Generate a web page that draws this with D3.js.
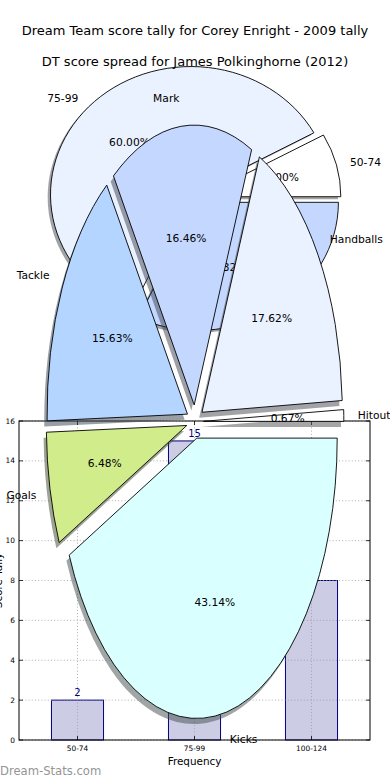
<!DOCTYPE html>
<html><head><meta charset="utf-8">
<script src="https://cdn.jsdelivr.net/npm/d3@7"></script>
<style>body{margin:0;background:#fff}svg{display:block;font-family:"DejaVu Sans",sans-serif}</style>
</head><body><svg id="c" width="390" height="780"></svg>
<script>
const title1 = "Dream Team score tally for Corey Enright - 2009 tally";
const title2 = "DT score spread for James Polkinghorne (2012)";
const tallyCategories = ["50-74", "75-99", "100-124"];
const tallyCounts = [2, 15, 8];
const yTicks = [0, 2, 4, 6, 8, 10, 12, 14, 16];
const spreadLabels = ["Hitout", "Handballs", "Mark", "Tackle", "Goals", "Kicks"];
const spreadValues = [0.67, 17.62, 16.46, 15.63, 6.48, 43.14];
const sliceColors = ["#ffffff", "#eaf1ff", "#c4d8ff", "#b3d5ff", "#d0ec8b", "#d9ffff"];
const xLabel = "Frequency", yLabel = "Score Tally", watermark = "Dream-Stats.com";

const svg = d3.select("#c");
const FS = 10.7;

function drawPie(g, values, labels, xs, ys, explode) {
  const total = d3.sum(values);
  const pie = d3.pie().sort(null).startAngle(Math.PI / 2).endAngle(Math.PI / 2 - 2 * Math.PI);
  const arcs = pie(values);
  const arc = d3.arc().innerRadius(0).outerRadius(1);
  const rx = xs(1) - xs(0), ry = ys(0) - ys(1);
  arcs.forEach((d, i) => {
    const mid = (d.startAngle + d.endAngle) / 2;
    d.ux = Math.sin(mid); d.uy = Math.cos(mid); // data coords (y up)
    d.color = sliceColors[i % sliceColors.length];
    d.label = labels[i];
    d.pct = (100 * d.value / total).toFixed(2) + "%";
  });
  const shadowFill = c => { const r = d3.rgb(c); return `rgba(${0.3*r.r},${0.3*r.g},${0.3*r.b},0.5)`; };
  g.append("g").selectAll("path").data(arcs).join("path")
    .attr("d", arc)
    .attr("transform", d => `translate(${xs(explode * d.ux - 0.02)},${ys(explode * d.uy - 0.02)}) scale(${rx},${ry})`)
    .attr("fill", d => shadowFill(d.color))
    .attr("stroke", "none");
  g.append("g").selectAll("path").data(arcs).join("path")
    .attr("d", arc)
    .attr("transform", d => `translate(${xs(explode * d.ux)},${ys(explode * d.uy)}) scale(${rx},${ry})`)
    .attr("fill", d => d.color)
    .attr("stroke", "#000")
    .attr("stroke-width", 0.9)
    .attr("vector-effect", "non-scaling-stroke")
    .attr("stroke-linejoin", "round");
  g.append("g").selectAll("text").data(arcs).join("text")
    .attr("x", d => xs((explode + 1.1) * d.ux))
    .attr("y", d => ys((explode + 1.1) * d.uy))
    .attr("dy", "0.36em")
    .attr("text-anchor", d => d.ux > 0 ? "start" : "end")
    .attr("font-size", FS)
    .text(d => d.label);
  g.append("g").selectAll("text").data(arcs).join("text")
    .attr("x", d => xs((explode + 0.6) * d.ux))
    .attr("y", d => ys((explode + 0.6) * d.uy))
    .attr("dy", "0.36em")
    .attr("text-anchor", "middle")
    .attr("font-size", FS)
    .text(d => d.pct);
}

// ---- Pie 1 (Corey Enright tally) ----
const p1x = d3.scaleLinear().domain([-1.25, 1.25]).range([19.5, 370.5]);
const p1y = d3.scaleLinear().domain([-1.25, 1.25]).range([358, 38]);
drawPie(svg.append("g"), tallyCounts, tallyCategories, p1x, p1y, 0.04);

// ---- Bar chart ----
const L = 19, R = 370, T = 421, B = 740;
const bx = d3.scaleBand().domain(tallyCategories).range([L, R]).padding(0);
const by = d3.scaleLinear().domain([0, 16]).range([B, T]);
const bw = bx.bandwidth() * 0.445;
const bar = svg.append("g");
bar.append("g").selectAll("rect").data(tallyCategories).join("rect")
  .attr("x", (c) => bx(c) + bx.bandwidth() / 2 - bw / 2)
  .attr("y", (c, i) => by(tallyCounts[i]))
  .attr("width", bw)
  .attr("height", (c, i) => B - by(tallyCounts[i]))
  .attr("fill", "#ccccE4")
  .attr("stroke", "#000080")
  .attr("stroke-width", 1);
// grid
const grid = bar.append("g").attr("stroke", "#9a9a9a").attr("stroke-width", 0.8).attr("stroke-dasharray", "1,2.2");
grid.selectAll("line.h").data(yTicks).join("line").attr("class", "h")
  .attr("x1", L).attr("x2", R).attr("y1", d => by(d)).attr("y2", d => by(d));
grid.selectAll("line.v").data(tallyCategories).join("line").attr("class", "v")
  .attr("x1", d => bx(d) + bx.bandwidth() / 2).attr("x2", d => bx(d) + bx.bandwidth() / 2)
  .attr("y1", T).attr("y2", B);
// ticks (inside)
const tk = bar.append("g").attr("stroke", "#000").attr("stroke-width", 0.8);
yTicks.forEach(v => {
  tk.append("line").attr("x1", L).attr("x2", L + 4).attr("y1", by(v)).attr("y2", by(v));
  tk.append("line").attr("x1", R).attr("x2", R - 4).attr("y1", by(v)).attr("y2", by(v));
});
tallyCategories.forEach(c => {
  const cx = bx(c) + bx.bandwidth() / 2;
  tk.append("line").attr("x1", cx).attr("x2", cx).attr("y1", B).attr("y2", B - 4);
  tk.append("line").attr("x1", cx).attr("x2", cx).attr("y1", T).attr("y2", T + 4);
});
bar.append("rect").attr("x", L).attr("y", T).attr("width", R - L).attr("height", B - T)
  .attr("fill", "none").attr("stroke", "#000").attr("stroke-width", 1);
bar.append("g").selectAll("text").data(yTicks).join("text")
  .attr("x", L - 4).attr("y", d => by(d)).attr("dy", "0.35em")
  .attr("text-anchor", "end").attr("font-size", 7.4).text(d => d);
bar.append("g").selectAll("text").data(tallyCategories).join("text")
  .attr("x", d => bx(d) + bx.bandwidth() / 2).attr("y", B + 11)
  .attr("text-anchor", "middle").attr("font-size", 7.4).text(d => d);
bar.append("g").selectAll("text").data(tallyCategories).join("text")
  .attr("x", d => bx(d) + bx.bandwidth() / 2).attr("y", (d, i) => by(tallyCounts[i]) - 4)
  .attr("text-anchor", "middle").attr("font-size", 10).attr("fill", "#000080")
  .text((d, i) => tallyCounts[i]);
bar.append("text").attr("x", (L + R) / 2).attr("y", 765).attr("text-anchor", "middle")
  .attr("font-size", 10.4).text(xLabel);
bar.append("text").attr("transform", `translate(1.5,${(T + B) / 2}) rotate(-90)`)
  .attr("text-anchor", "middle").attr("font-size", 10.4).text(yLabel);

// ---- Pie 2 (Polkinghorne) ----
const p2x = d3.scaleLinear().domain([-1.25, 1.25]).range([19.5, 370.5]);
const p2y = d3.scaleLinear().domain([-1.25, 1.25]).range([771.7, 71.7]);
drawPie(svg.append("g"), spreadValues, spreadLabels, p2x, p2y, 0.06);

// ---- Titles & watermark ----
svg.append("text").attr("x", 195).attr("y", 34.5).attr("text-anchor", "middle").attr("font-size", 13).text(title1);
svg.append("text").attr("x", 195).attr("y", 65.5).attr("text-anchor", "middle").attr("font-size", 13).text(title2);
svg.append("text").attr("x", 0).attr("y", 774.5).attr("font-size", 11.6).attr("fill", "#959595").text(watermark);
</script></body></html>
